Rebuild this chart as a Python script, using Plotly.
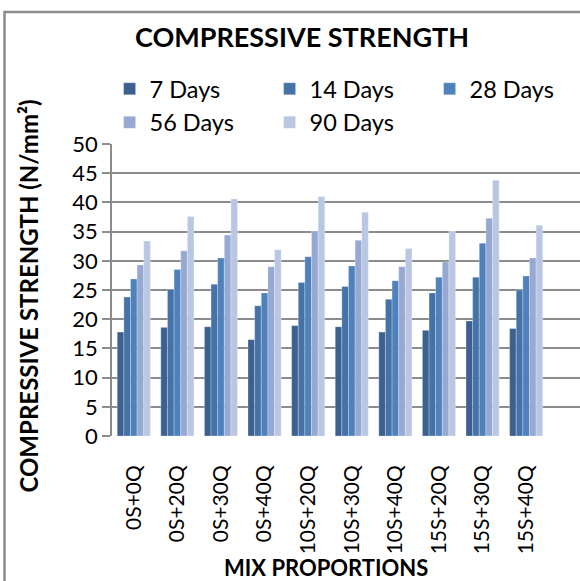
import plotly.graph_objects as go

categories = ["0S+0Q", "0S+20Q", "0S+30Q", "0S+40Q", "10S+20Q",
              "10S+30Q", "10S+40Q", "15S+20Q", "15S+30Q", "15S+40Q"]
series_names = ["7 Days", "14 Days", "28 Days", "56 Days", "90 Days"]
days_7 = [17.8, 18.6, 18.7, 16.5, 18.9, 18.7, 17.8, 18.1, 19.7, 18.4]
days_14 = [23.8, 25.1, 26.0, 22.3, 26.3, 25.6, 23.4, 24.5, 27.2, 25.0]
days_28 = [26.9, 28.5, 30.5, 24.5, 30.7, 29.1, 26.6, 27.2, 33.0, 27.4]
days_56 = [29.3, 31.7, 34.4, 29.0, 35.1, 33.5, 29.0, 29.8, 37.3, 30.5]
days_90 = [33.4, 37.6, 40.6, 31.9, 41.0, 38.3, 32.1, 35.1, 43.8, 36.1]
colors = ["#3C6090", "#4572A7", "#4F81BD", "#95A9D3", "#B9C7E2"]
y_ticks = [0, 5, 10, 15, 20, 25, 30, 35, 40, 45, 50]

FONT = "Lato"
W, H = 580, 581
L, R, T, B = 112.4, 0, 144, 145
PW = W - L - R
PH = H - T - B

def px_x(p):
    return (p - L) / PW

def px_y(p):
    return (H - B - p) / PH

fig = go.Figure()
for name, vals, col in zip(series_names, [days_7, days_14, days_28, days_56, days_90], colors):
    fig.add_trace(go.Bar(
        x=list(range(len(categories))), y=vals, name=name,
        marker=dict(color=col, line=dict(width=0.6, color="rgba(255,255,255,0.45)")),
    ))

fig.update_layout(
    width=W, height=H,
    margin=dict(l=L, r=R, t=T, b=B, autoexpand=False),
    paper_bgcolor="white", plot_bgcolor="white",
    barmode="group", bargap=0.24, bargroupgap=0,
    font=dict(family=FONT, size=22, color="black"),
    title=dict(text="<b>COMPRESSIVE STRENGTH</b>", font=dict(family=FONT, size=27, color="black"),
               x=302 / W, xanchor="center", y=1 - 38 / H, yanchor="middle"),
    legend=dict(orientation="h", x=px_x(110), xanchor="left", y=px_y(67), yanchor="top",
                entrywidth=115, entrywidthmode="pixels", font=dict(family=FONT, size=23.5),
                bgcolor="rgba(0,0,0,0)", traceorder="normal", tracegroupgap=0),
    xaxis=dict(
        range=[-0.5, -0.5 + PW / 43.56], tickmode="array",
        tickvals=list(range(len(categories))), ticktext=categories,
        tickangle=-90, ticks="", ticklabelstandoff=24, showgrid=False,
        showline=False, zeroline=False, tickfont=dict(family=FONT, size=21),
    ),
    yaxis=dict(
        range=[0, 50], tickmode="array", tickvals=y_ticks,
        showgrid=True, gridcolor="#8C8C8C", gridwidth=1.6,
        showline=True, linecolor="#8C8C8C", linewidth=1.6,
        ticks="outside", ticklen=8, tickcolor="#8C8C8C", tickwidth=1.6,
        zeroline=False, tickfont=dict(family=FONT, size=22),
    ),
    shapes=[
        dict(type="rect", xref="paper", yref="paper",
             x0=px_x(5), x1=px_x(600), y0=px_y(600), y1=px_y(12),
             line=dict(color="#8C8C8C", width=2.5), fillcolor="rgba(0,0,0,0)", layer="below"),
    ],
    annotations=[
        dict(text="<b>COMPRESSIVE STRENGTH (N/mm²)</b>", xref="paper", yref="paper",
             x=px_x(28), y=px_y(296), textangle=-90, showarrow=False,
             xanchor="center", yanchor="middle", font=dict(family=FONT, size=24, color="black")),
        dict(text="<b>MIX PROPORTIONS</b>", xref="paper", yref="paper",
             x=px_x(326), y=px_y(567), showarrow=False,
             xanchor="center", yanchor="middle", font=dict(family=FONT, size=22, color="black")),
    ],
)

fig.write_html(
    "out.html",
    config={"displayModeBar": False},
    post_script="document.body.style.margin='0';document.body.style.padding='0';"
                "document.documentElement.style.overflow='hidden';document.body.style.overflow='hidden';",
)
